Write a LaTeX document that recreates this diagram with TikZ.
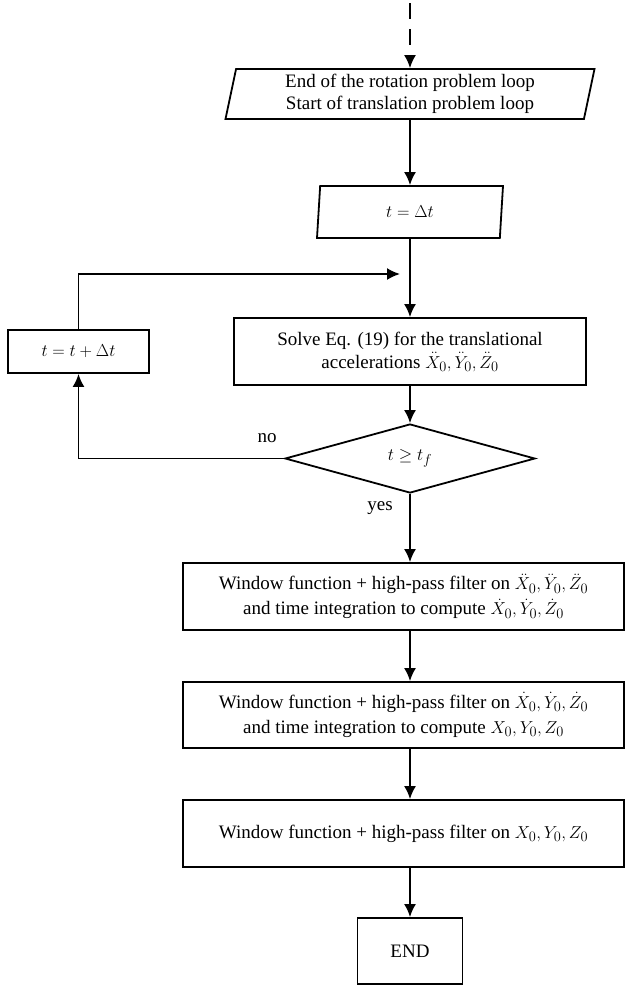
\documentclass[tikz,border=0pt]{standalone}
\usepackage{amsmath}
\usepackage{fontspec}
\setmainfont{Liberation Serif}
\usetikzlibrary{arrows.meta, shapes.geometric}

\begin{document}
\begin{tikzpicture}[x=1pt, y=-1pt, >={Latex[length=13pt, width=12pt]}, line width=1.8pt,
  font=\fontsize{19}{22}\selectfont,
  box/.style={draw, rectangle, align=center, inner sep=0pt},
  io/.style={draw, trapezium, trapezium left angle=75, trapezium right angle=105,
    trapezium stretches body, align=center, inner sep=0pt},
  test/.style={draw, diamond, inner sep=0pt}]
  \useasboundingbox (0,0) rectangle (627,986);
  % nodes of the main column
  \node [io, minimum width=369, minimum height=50] (loopend) at (410,94)
    {End of the rotation problem loop\\Start of translation problem loop};
  \node [io, minimum width=186, minimum height=52] (tinit) at (410,212) {$t = \Delta t$};
  \node [box, minimum width=352, minimum height=67] (solve) at (410,351.5)
    {Solve Eq. (19) for the translational\\[1pt]accelerations $\ddot{X}_0, \ddot{Y}_0, \ddot{Z}_0$};
  \node [box, minimum width=141, minimum height=43] (incr) at (78.5,351.5) {$t = t + \Delta t$};
  \node [test, minimum width=250, minimum height=69] (check) at (410,458.5) {$t \geq t_f$};
  \node [box, minimum width=441, minimum height=67] (filtacc) at (403.5,596.5)
    {Window function + high-pass filter on $\ddot{X}_0, \ddot{Y}_0, \ddot{Z}_0$\\[3pt]
     and time integration to compute $\dot{X}_0, \dot{Y}_0, \dot{Z}_0$};
  \node [box, minimum width=441, minimum height=66] (filtvel) at (403.5,715)
    {Window function + high-pass filter on $\dot{X}_0, \dot{Y}_0, \dot{Z}_0$\\[3pt]
     and time integration to compute $X_0, Y_0, Z_0$};
  \node [box, minimum width=441, minimum height=67] (filtpos) at (403.5,833.5)
    {Window function + high-pass filter on $X_0, Y_0, Z_0$};
  \node [box, minimum width=105, minimum height=66] (stop) at (410,951) {END};
  \node (no) at (267,438) {no};
  \node (yes) at (380,508) {yes};
  \coordinate (entry) at (410,0);
  \coordinate (join) at (400,274);
  % connectors
  \draw [->, dash pattern=on 16pt off 10pt, dash phase=23pt] (entry) -- (loopend);
  \draw [->] (loopend) -- (tinit);
  \draw [->] (tinit) -- (solve);
  \draw [->] (solve) -- (check);
  \draw [->] (check) -| (incr);
  \draw [->] (incr) |- (join);
  \draw [->] (check) -- (filtacc.north -| check);
  \draw [->] (filtacc.south -| check) -- (filtvel.north -| check);
  \draw [->] (filtvel.south -| check) -- (filtpos.north -| check);
  \draw [->] (filtpos.south -| stop) -- (stop);
\end{tikzpicture}
\end{document}
